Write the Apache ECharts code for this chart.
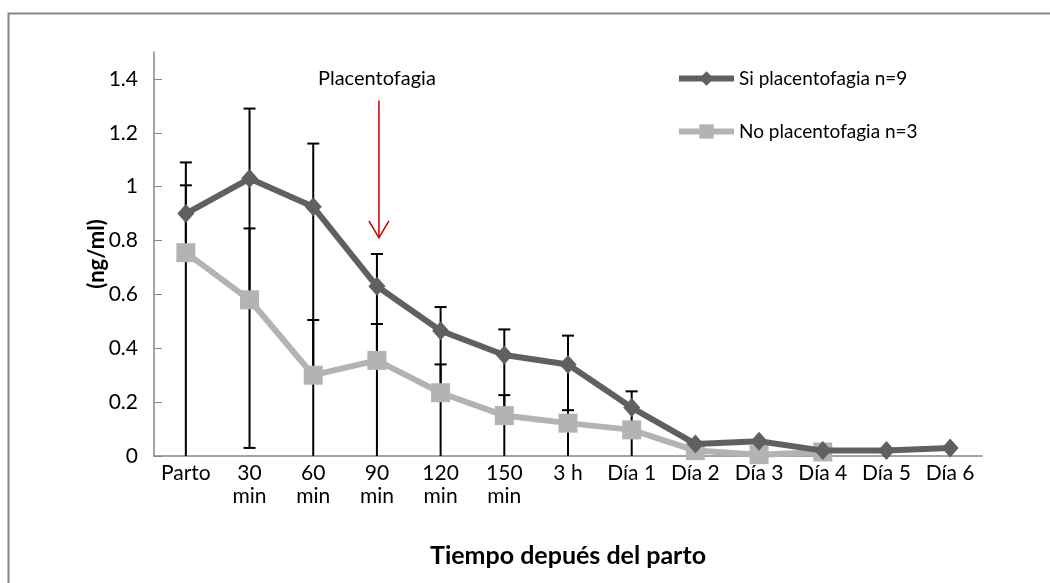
<!DOCTYPE html>
<html>
<head>
<meta charset="utf-8">
<script src="https://cdn.jsdelivr.net/npm/echarts@6/dist/echarts.min.js"></script>
<style>
html,body{margin:0;padding:0;background:#fff;}
#chart{width:1050px;height:583px;}
</style>
</head>
<body>
<div id="chart"></div>
<script>
// ---- data ----
var categories = ['Parto', '30\nmin', '60\nmin', '90\nmin', '120\nmin', '150\nmin', '3 h', 'Día 1', 'Día 2', 'Día 3', 'Día 4', 'Día 5', 'Día 6'];
var siName = 'Si placentofagia n=9';
var noName = 'No placentofagia n=3';
var siValues = [0.90, 1.03, 0.925, 0.63, 0.465, 0.375, 0.34, 0.18, 0.045, 0.055, 0.02, 0.02, 0.03];
var noValues = [0.755, 0.58, 0.30, 0.355, 0.235, 0.15, 0.122, 0.097, 0.02, 0.005, 0.015, null, null];
// error bar ends (value units); lower end 0 = clipped at the axis (no cap)
var siErrHigh = [1.09, 1.29, 1.16, 0.75, 0.553, 0.47, 0.447, 0.24, null, null, null, null, null];
var siErrLow  = [0, 0.03, 0, 0, 0, 0, 0, 0, null, null, null, null, null];
var noErrHigh = [1.005, 0.845, 0.505, 0.49, 0.34, 0.226, 0.17, null, null, null, null, null, null];
var yTicks = [0, 0.2, 0.4, 0.6, 0.8, 1, 1.2, 1.4];
var annotationText = 'Placentofagia';
var annotationCategory = '90\nmin';

var FONT = 'Lato';
var errData = [];
for (var i = 0; i < categories.length; i++) {
  if (siErrHigh[i] != null) errData.push([i, siErrLow[i], siErrHigh[i]]);
  if (noErrHigh[i] != null) errData.push([i, noValues[i], noErrHigh[i]]);
}

var chart = echarts.init(document.getElementById('chart'));
var option = {
  backgroundColor: '#ffffff',
  animation: false,
  textStyle: {fontFamily: FONT},
  grid: {left: 154, right: 68, top: 52, bottom: 127, containLabel: false},
  legend: {
    orient: 'vertical', left: 676, top: 69, itemGap: 34, padding: 0,
    itemWidth: 55, itemHeight: 18,
    lineStyle: {width: 6},
    textStyle: {fontFamily: FONT, fontSize: 19, color: '#000'},
    data: [siName, noName]
  },
  xAxis: {
    type: 'category', data: categories,
    axisLine: {lineStyle: {color: '#868686', width: 1.5}},
    axisTick: {show: false},
    axisLabel: {interval: 0, fontFamily: FONT, fontSize: 21, color: '#000', lineHeight: 23, margin: 6},
    name: 'Tiempo depués del parto', nameLocation: 'middle', nameGap: 87, nameMoveOverlap: false,
    nameTextStyle: {fontFamily: FONT, fontSize: 25, fontWeight: 'bold', color: '#000'}
  },
  yAxis: {
    type: 'value', min: 0, max: 1.5, interval: 0.2,
    splitLine: {show: false},
    axisLine: {show: true, lineStyle: {color: '#868686', width: 1.5}},
    axisTick: {show: true, inside: true, length: 8, lineStyle: {color: '#868686'}, customValues: yTicks},
    axisLabel: {fontFamily: FONT, fontSize: 21, color: '#000', margin: 16, customValues: yTicks},
    name: '(ng/ml)', nameLocation: 'middle', nameGap: 46, nameRotate: 90, nameMoveOverlap: false,
    nameTextStyle: {fontFamily: FONT, fontSize: 22, fontWeight: 'bold', color: '#000'}
  },
  series: [
    {
      type: 'custom', name: 'err', z: 1, silent: true,
      data: errData,
      renderItem: function (params, api) {
        var x = api.value(0), lo = api.value(1), hi = api.value(2);
        var pLo = api.coord([x, lo]), pHi = api.coord([x, hi]);
        var half = 6;
        var children = [{
          type: 'line', shape: {x1: pHi[0], y1: pHi[1], x2: pLo[0], y2: pLo[1]},
          style: {stroke: '#000', lineWidth: 2}
        }, {
          type: 'line', shape: {x1: pHi[0] - half, y1: pHi[1], x2: pHi[0] + half, y2: pHi[1]},
          style: {stroke: '#000', lineWidth: 2}
        }];
        if (lo > 0) children.push({
          type: 'line', shape: {x1: pLo[0] - half, y1: pLo[1], x2: pLo[0] + half, y2: pLo[1]},
          style: {stroke: '#000', lineWidth: 2}
        });
        return {type: 'group', children: children};
      }
    },
    {
      type: 'line', name: noName, data: noValues, z: 3,
      symbol: 'rect', symbolSize: 19,
      lineStyle: {color: '#b3b3b3', width: 6},
      itemStyle: {color: '#b3b3b3'}
    },
    {
      type: 'line', name: siName, data: siValues, z: 4,
      symbol: 'diamond', symbolSize: [17, 19],
      lineStyle: {color: '#606060', width: 6},
      itemStyle: {color: '#606060'}
    }
  ]
};
chart.setOption(option);

// annotation arrow anchored to the 90 min category
var pTop = chart.convertToPixel({xAxisIndex: 0, yAxisIndex: 0}, [annotationCategory, 1.32]);
var pTip = chart.convertToPixel({xAxisIndex: 0, yAxisIndex: 0}, [annotationCategory, 0.81]);
var pTxt = chart.convertToPixel({xAxisIndex: 0, yAxisIndex: 0}, [annotationCategory, 1.4]);
var ax = pTop[0] + 2;
chart.setOption({
  graphic: [
    {type: 'rect', shape: {x: 8.5, y: 13.5, width: 1100, height: 700},
     style: {fill: 'none', stroke: '#868686', lineWidth: 2}, silent: true, z: 0},
    {type: 'line', shape: {x1: ax, y1: pTop[1], x2: ax, y2: pTip[1]},
     style: {stroke: '#c00000', lineWidth: 1.5}, z: 10},
    {type: 'polyline', shape: {points: [[ax - 10, pTip[1] - 17], [ax, pTip[1]], [ax + 10, pTip[1] - 17]]},
     style: {stroke: '#c00000', lineWidth: 1.5, fill: 'none'}, z: 10},
    {type: 'text', x: pTop[0], y: pTxt[1],
     style: {text: annotationText, fontFamily: FONT, fontSize: 20, fill: '#000', align: 'center', verticalAlign: 'middle'}, z: 10}
  ]
});
</script>
</body>
</html>
